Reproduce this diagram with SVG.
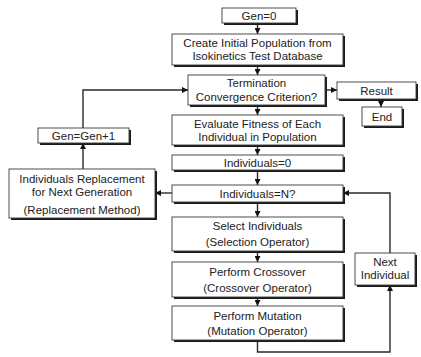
<svg xmlns="http://www.w3.org/2000/svg" width="421" height="357" viewBox="0 0 421 357">
  <style>
    .box { fill: #ffffff; stroke: #3a3a3a; stroke-width: 0.9; }
    .shadow { fill: #1a1a1a; }
    .lbl { font-family: "Liberation Sans", Arial, sans-serif; font-size: 11.5px; fill: #222222; text-anchor: middle; }
    .wire { fill: none; stroke: #2a2a2a; stroke-width: 1.4; }
  </style>
  <defs>
    <marker id="arr" viewBox="0 0 10 10" refX="10" refY="5" markerWidth="6" markerHeight="6" markerUnits="userSpaceOnUse" orient="auto">
      <path d="M0,0 L10,5 L0,10 z" fill="#111"/>
    </marker>
  </defs>
  <rect width="421" height="357" fill="#ffffff"/>

  <!-- connectors -->
  <g id="connectors" class="wire">
    <path d="M257.5,23 V34" marker-end="url(#arr)"/>
    <path d="M257.5,65 V75" marker-end="url(#arr)"/>
    <path d="M257.5,105 V115" marker-end="url(#arr)"/>
    <path d="M257.5,145 V155" marker-end="url(#arr)"/>
    <path d="M257.5,170 V185" marker-end="url(#arr)"/>
    <path d="M257.5,202 V217" marker-end="url(#arr)"/>
    <path d="M257.5,251 V262" marker-end="url(#arr)"/>
    <path d="M257.5,297 V306" marker-end="url(#arr)"/>
    <path d="M325,90 H337" marker-end="url(#arr)"/>
    <path d="M381,99 V107" marker-end="url(#arr)"/>
    <path d="M172,193 H155" marker-end="url(#arr)"/>
    <path d="M83,169 V143" marker-end="url(#arr)"/>
    <path d="M83,128 V90 H188" marker-end="url(#arr)"/>
    <path d="M257.5,340 V352 H390 V285" marker-end="url(#arr)"/>
    <path d="M390,253 V193 H343" marker-end="url(#arr)"/>
  </g>

  <g id="gen0">
    <rect class="shadow" x="224" y="10" width="74" height="15"/>
    <rect class="box" x="222" y="8" width="74" height="15"/>
    <text class="lbl" x="259" y="20">Gen=0</text>
  </g>
  <g id="create">
    <rect class="shadow" x="174" y="36" width="171" height="31"/>
    <rect class="box" x="172" y="34" width="171" height="31"/>
    <text class="lbl" x="257.5" y="47">Create Initial Population from</text>
    <text class="lbl" x="257.5" y="60">Isokinetics Test Database</text>
  </g>
  <g id="termination">
    <rect class="shadow" x="190" y="77" width="137" height="30"/>
    <rect class="box" x="188" y="75" width="137" height="30"/>
    <text class="lbl" x="256.5" y="87">Termination</text>
    <text class="lbl" x="256.5" y="101">Convergence Criterion?</text>
  </g>
  <g id="result">
    <rect class="shadow" x="339" y="84" width="79" height="17"/>
    <rect class="box" x="337" y="82" width="79" height="17"/>
    <text class="lbl" x="376.5" y="95">Result</text>
  </g>
  <g id="end">
    <rect class="shadow" x="364" y="109" width="40" height="19"/>
    <rect class="box" x="362" y="107" width="40" height="19"/>
    <text class="lbl" x="382" y="121">End</text>
  </g>
  <g id="evaluate">
    <rect class="shadow" x="174" y="117" width="171" height="30"/>
    <rect class="box" x="172" y="115" width="171" height="30"/>
    <text class="lbl" x="257.5" y="128">Evaluate Fitness of Each</text>
    <text class="lbl" x="257.5" y="141">Individual in Population</text>
  </g>
  <g id="ind0">
    <rect class="shadow" x="174" y="157" width="171" height="15"/>
    <rect class="box" x="172" y="155" width="171" height="15"/>
    <text class="lbl" x="257.5" y="167">Individuals=0</text>
  </g>
  <g id="indN">
    <rect class="shadow" x="174" y="187" width="171" height="17"/>
    <rect class="box" x="172" y="185" width="171" height="17"/>
    <text class="lbl" x="257.5" y="198">Individuals=N?</text>
  </g>
  <g id="select">
    <rect class="shadow" x="174" y="219" width="171" height="34"/>
    <rect class="box" x="172" y="217" width="171" height="34"/>
    <text class="lbl" x="257.5" y="230">Select Individuals</text>
    <text class="lbl" x="257.5" y="246">(Selection Operator)</text>
  </g>
  <g id="crossover">
    <rect class="shadow" x="174" y="264" width="171" height="35"/>
    <rect class="box" x="172" y="262" width="171" height="35"/>
    <text class="lbl" x="257.5" y="276">Perform Crossover</text>
    <text class="lbl" x="257.5" y="292">(Crossover Operator)</text>
  </g>
  <g id="mutation">
    <rect class="shadow" x="174" y="308" width="171" height="34"/>
    <rect class="box" x="172" y="306" width="171" height="34"/>
    <text class="lbl" x="257.5" y="320">Perform Mutation</text>
    <text class="lbl" x="257.5" y="335">(Mutation Operator)</text>
  </g>
  <g id="gen-inc">
    <rect class="shadow" x="40" y="130" width="91" height="15"/>
    <rect class="box" x="38" y="128" width="91" height="15"/>
    <text class="lbl" x="83.5" y="140">Gen=Gen+1</text>
  </g>
  <g id="replacement">
    <rect class="shadow" x="11" y="171" width="146" height="49"/>
    <rect class="box" x="9" y="169" width="146" height="49"/>
    <text class="lbl" x="82" y="183">Individuals Replacement</text>
    <text class="lbl" x="82" y="196">for Next Generation</text>
    <text class="lbl" x="82" y="214">(Replacement Method)</text>
  </g>
  <g id="next-individual">
    <rect class="shadow" x="357" y="255" width="60" height="32"/>
    <rect class="box" x="355" y="253" width="60" height="32"/>
    <text class="lbl" x="385" y="266">Next</text>
    <text class="lbl" x="385" y="279">Individual</text>
  </g>
</svg>
